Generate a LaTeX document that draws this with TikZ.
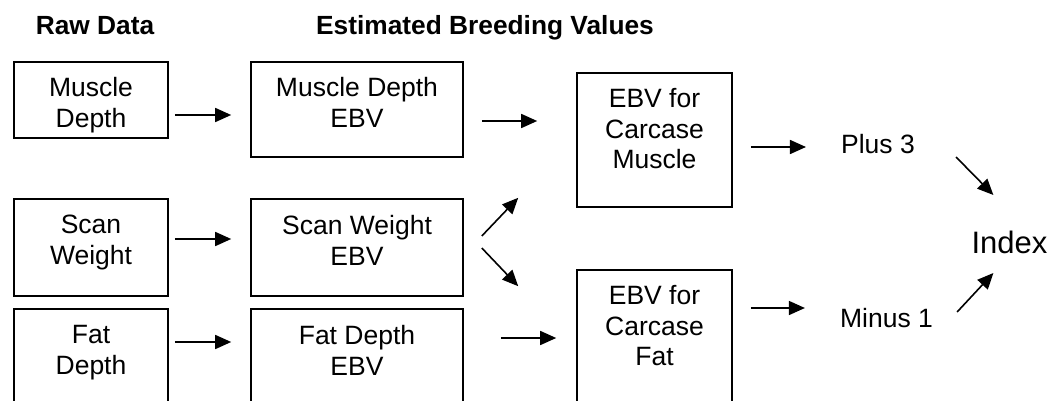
\documentclass[tikz,border=0pt]{standalone}
\usepackage{fontspec}
\setmainfont{Liberation Sans}
\usetikzlibrary{arrows.meta,calc}
\begin{document}
\begin{tikzpicture}[x=1pt,y=-1pt,
  box/.style={draw,line width=1.6pt,inner sep=0pt,minimum width=#1},
  box/.default=154,
  txt/.style={font=\fontsize{26.5}{30.5}\selectfont,align=center,inner sep=0pt},
  hdr/.style={font=\fontsize{26.3}{30}\selectfont\bfseries,inner sep=0pt,anchor=base},
  arr/.style={line width=1.6pt,-{Triangle[length=16pt,width=14pt]}}]
\useasboundingbox (0,0) rectangle (1051,401);
\clip (0,0) rectangle (1051,401);
% headers
\node[hdr] (h1) at (95,35) {Raw Data};
\node[hdr] (h2) at (485,35) {Estimated Breeding Values};
% boxes
\node[box,minimum height=76pt] (md) at (91,100) {};
\node[box=212,minimum height=95pt] (mde) at (357,109.5) {};
\node[box,minimum height=97pt] (sw) at (91,247.5) {};
\node[box=212,minimum height=97pt] (swe) at (357,247.5) {};
\node[box,minimum height=111pt] (fd) at (91,364.5) {};
\node[box=212,minimum height=111pt] (fde) at (357,364.5) {};
\node[box=155,minimum height=134pt] (cm) at (654.5,140) {};
\node[box=155,minimum height=150pt] (cf) at (654.5,345) {};
% box texts
\node[txt,anchor=north] (tmd) at ($(md.north)+(0,16)$) {Muscle\\Depth};
\node[txt,anchor=north] (tmde) at ($(mde.north)+(0,16)$) {Muscle Depth\\EBV};
\node[txt,anchor=north] (tsw) at ($(sw.north)+(0,17)$) {Scan\\Weight};
\node[txt,anchor=north] (tswe) at ($(swe.north)+(0,17)$) {Scan Weight\\EBV};
\node[txt,anchor=north] (tfd) at ($(fd.north)+(0,17)$) {Fat\\Depth};
\node[txt,anchor=north] (tfde) at ($(fde.north)+(0,17)$) {Fat Depth\\EBV};
\node[txt,anchor=north] (tcm) at ($(cm.north)+(0,16)$) {EBV for\\Carcase\\Muscle};
\node[txt,anchor=north] (tcf) at ($(cf.north)+(0,16)$) {EBV for\\Carcase\\Fat};
% outputs
\node[txt,anchor=base] (plus) at (878,153) {Plus 3};
\node[txt,anchor=base] (minus) at (886.5,327) {Minus 1};
\node[font=\fontsize{31}{36}\selectfont,inner sep=0pt,anchor=base] (idx) at (1009.5,253) {Index};
% arrows
\draw[arr] ($(md.east|-0,115)+(6,0)$) -- ($(mde.west|-0,115)+(-19,0)$);
\draw[arr] ($(sw.east|-0,239)+(6,0)$) -- ($(swe.west|-0,239)+(-19,0)$);
\draw[arr] ($(fd.east|-0,342)+(6,0)$) -- ($(fde.west|-0,342)+(-19,0)$);
\draw[arr] ($(mde.east|-0,121)+(18,0)$) -- ($(cm.west|-0,121)+(-39,0)$);
\draw[arr] ($(swe.east)+(18,-11.5)$) -- ($(cm.south west)+(-58,-10)$);
\draw[arr] ($(swe.east)+(18,0.5)$) -- ($(cf.north west)+(-58,17)$);
\draw[arr] ($(fde.east|-0,338)+(37,0)$) -- ($(cf.west|-0,338)+(-20,0)$);
\draw[arr] ($(cm.east|-0,147)+(18,0)$) -- ($(plus.west|-0,147)+(-35,0)$);
\draw[arr] ($(cf.east|-0,308)+(18,0)$) -- ($(minus.west|-0,308)+(-35,0)$);
\draw[arr] ($(plus.base east)+(41,4)$) -- ($(idx.base west)+(22,-58)$);
\draw[arr] ($(minus.base east)+(24,-15)$) -- ($(idx.base west)+(22,20)$);
\end{tikzpicture}
\end{document}
